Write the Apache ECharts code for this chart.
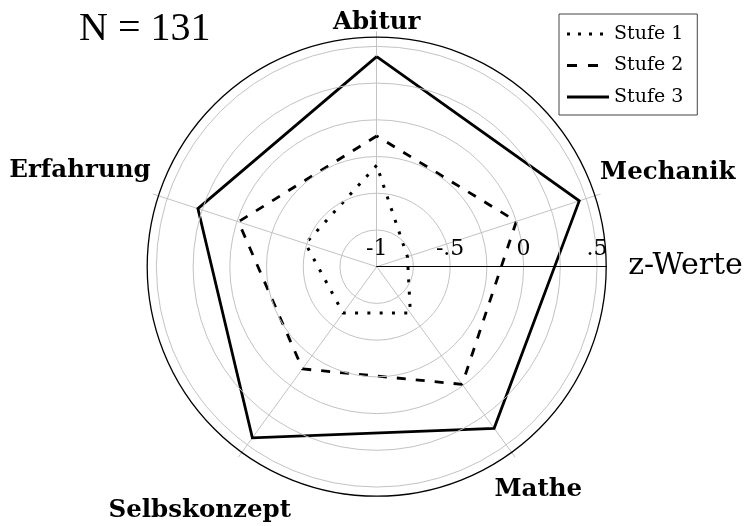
<!DOCTYPE html>
<html>
<head>
<meta charset="utf-8">
<script src="https://cdn.jsdelivr.net/npm/echarts@6/dist/echarts.min.js"></script>
<style>
html,body{margin:0;padding:0;background:#fff;}
#chart{width:755px;height:526px;}
</style>
</head>
<body>
<div id="chart"></div>
<script>
// ---- data ----
var categories = ['Abitur', 'Erfahrung', 'Selbskonzept', 'Mathe', 'Mechanik'];
var seriesNames = ['Stufe 1', 'Stufe 2', 'Stufe 3'];
var stufe1 = [-0.31, -0.49, -0.61, -0.61, -0.78];
var stufe2 = [-0.11, -0.01, -0.14, -0.01, 0.00];
var stufe3 = [0.43, 0.28, 0.44, 0.36, 0.45];
var tickLabels = {'-1': '-1', '-0.5': '-.5', '0': '0', '0.5': '.5'};
var axisName = 'z-Werte';
var titleText = 'N = 131';

// ---- layout / style ----
var CX = 376.7, CY = 266.7;
var nameGaps = [9, 77, 66, 40, 71];
var gray = '#c3c3c3';

var chart = echarts.init(document.getElementById('chart'), null, {renderer: 'canvas'});

var dotIcon = 'path://M0,0h3v3h-3z M11,0h3v3h-3z M22,0h3v3h-3z M33,0h3v3h-3z M42,0h0.01v3h-0.01z';
var dashIcon = 'path://M0,0h10v3h-10z M21,0h10v3h-10z M42,0h0.01v3h-0.01z';
var solidIcon = 'path://M0,0h42v3h-42z';

var option = {
  animation: false,
  backgroundColor: '#fff',
  title: {
    text: titleText,
    left: 79, top: 9, padding: 0,
    textStyle: {fontFamily: 'Liberation Serif', fontWeight: 'normal', fontSize: 40, color: '#000'}
  },
  legend: {
    orient: 'vertical',
    left: 559, top: 14,
    padding: [10, 14, 8, 8],
    itemGap: 11.5,
    itemWidth: 42, itemHeight: 3,
    borderColor: '#444', borderWidth: 1, borderRadius: 0,
    backgroundColor: '#fff',
    textStyle: {fontFamily: 'DejaVu Serif', fontSize: 19, color: '#000', lineHeight: 20},
    data: [
      {name: seriesNames[0], icon: dotIcon},
      {name: seriesNames[1], icon: dashIcon},
      {name: seriesNames[2], icon: solidIcon}
    ]
  },
  polar: {center: [CX, CY], radius: [0, 229.5]},
  angleAxis: {
    type: 'value', min: 0, max: 360, startAngle: 0,
    axisLine: {lineStyle: {color: '#000', width: 1.3}},
    axisTick: {show: false}, axisLabel: {show: false}, splitLine: {show: false},
    z: 4
  },
  radiusAxis: {
    type: 'value', min: -1, max: 0.5625, interval: 0.25,
    axisLine: {lineStyle: {color: '#000', width: 1.2}},
    axisTick: {show: false},
    splitLine: {lineStyle: {color: [gray, gray, gray, gray, gray, gray, gray, 'rgba(0,0,0,0)'], width: 1}},
    axisLabel: {
      fontFamily: 'DejaVu Serif', fontSize: 22, color: '#000', margin: 6,
      formatter: function (v) {
        var k = String(Math.round(v * 100) / 100);
        return tickLabels[k] !== undefined ? tickLabels[k] : '';
      }
    },
    name: axisName, nameLocation: 'end', nameGap: 22,
    nameTextStyle: {fontFamily: 'DejaVu Serif', fontSize: 30, color: '#000', verticalAlign: 'middle', align: 'left'},
    z: 3
  },
  radar: {
    center: [CX, CY], radius: 235, startAngle: 90, shape: 'circle',
    indicator: categories.map(function (c, i) {
      return {name: c, min: -1, max: 0.6, nameGap: nameGaps[i]};
    }),
    axisName: {
      color: '#000', fontFamily: 'DejaVu Serif', fontWeight: 'bold', fontSize: 24.5,
      align: 'center', verticalAlign: 'middle'
    },
    splitLine: {show: false}, splitArea: {show: false},
    axisLine: {lineStyle: {color: gray, width: 1}},
    axisTick: {show: false}, axisLabel: {show: false}
  },
  series: [{
    type: 'radar',
    symbol: 'none',
    z: 2,
    data: [
      {name: seriesNames[0], value: stufe1, lineStyle: {color: '#000', width: 3, type: [3, 9.3], cap: 'butt'}, itemStyle: {color: '#000'}},
      {name: seriesNames[1], value: stufe2, lineStyle: {color: '#000', width: 2.8, type: [9, 10], cap: 'butt'}, itemStyle: {color: '#000'}},
      {name: seriesNames[2], value: stufe3, lineStyle: {color: '#000', width: 2.8, type: 'solid', join: 'miter'}, itemStyle: {color: '#000'}}
    ]
  }]
};
chart.setOption(option);
</script>
</body>
</html>
